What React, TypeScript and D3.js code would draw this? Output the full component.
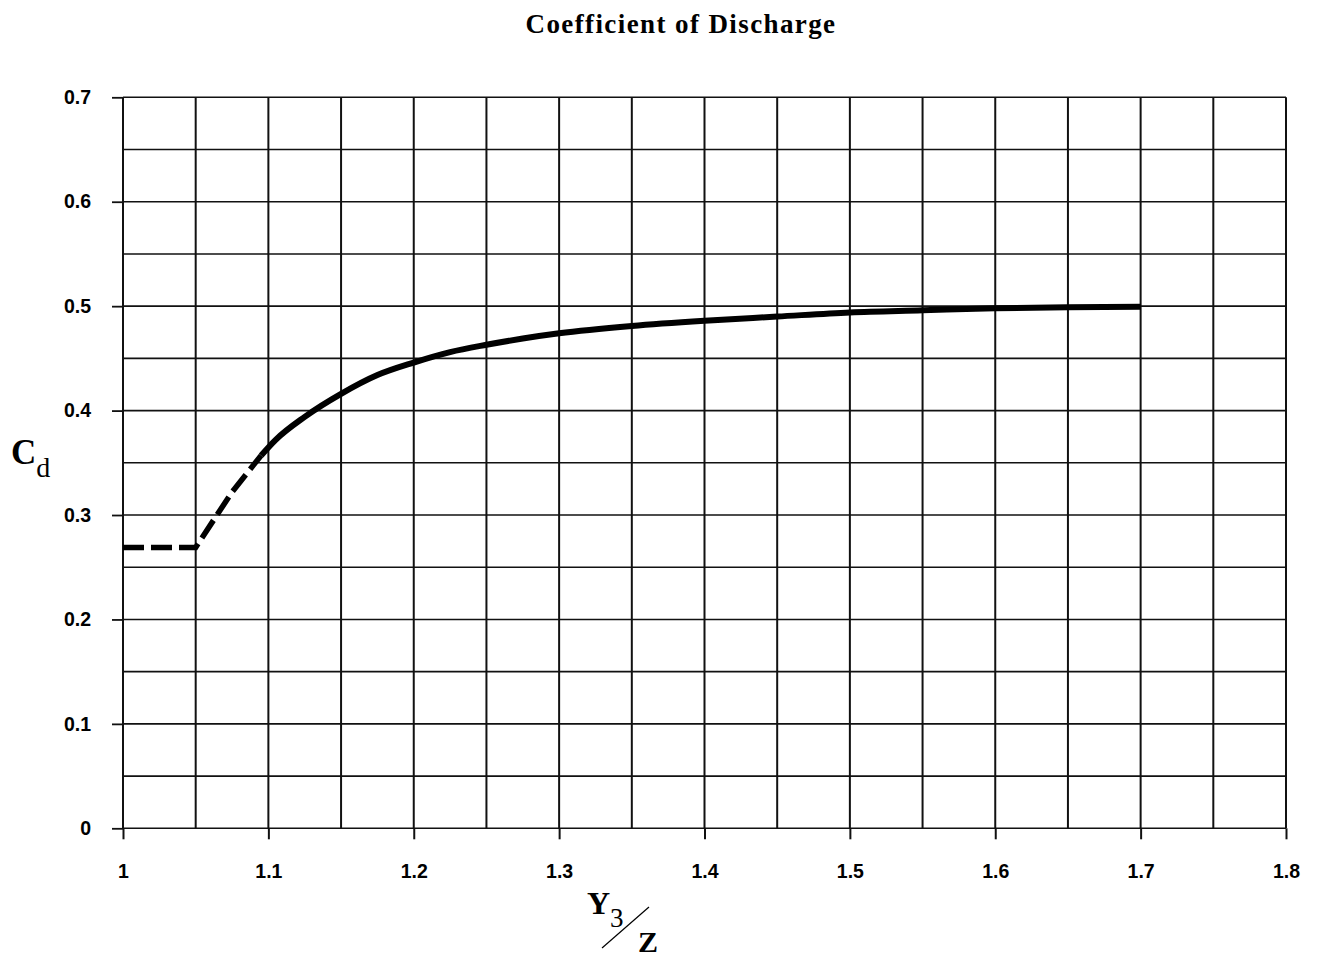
import React, { useEffect, useRef } from 'react';
import * as d3 from 'd3';

// Y3/Z values and Cd
const dashedX = [1.0, 1.05, 1.075, 1.095];
const dashedCd = [0.269, 0.269, 0.322, 0.357];

const solidX = [1.095, 1.105, 1.125, 1.15, 1.175, 1.2, 1.225, 1.25, 1.275, 1.3, 1.35, 1.4, 1.45, 1.5, 1.55, 1.6, 1.65, 1.7];
const solidCd = [0.357, 0.372, 0.394, 0.416, 0.434, 0.446, 0.456, 0.463, 0.469, 0.474, 0.481, 0.486, 0.490, 0.494, 0.496, 0.498, 0.499, 0.4995];

const xTicks = [1, 1.1, 1.2, 1.3, 1.4, 1.5, 1.6, 1.7, 1.8];
const xTickLabels = ['1', '1.1', '1.2', '1.3', '1.4', '1.5', '1.6', '1.7', '1.8'];
const yTicks = [0, 0.1, 0.2, 0.3, 0.4, 0.5, 0.6, 0.7];
const yTickLabels = ['0', '0.1', '0.2', '0.3', '0.4', '0.5', '0.6', '0.7'];

const W = 1319;
const H = 957;

export default function App() {
  const ref = useRef<SVGSVGElement>(null);

  useEffect(() => {
    if (!ref.current) return;
    const svg = d3.select(ref.current);
    svg.selectAll('*').remove();

    const x = d3.scaleLinear().domain([1, 1.8]).range([123, 1286]);
    const y = d3.scaleLinear().domain([0, 0.7]).range([828.3, 97.3]);

    const tickFont = "'Liberation Sans', Arial, sans-serif";
    const serif = "'Liberation Serif', 'Times New Roman', serif";

    // grid, every 0.05
    const gx = d3.range(0, 17).map(i => 1 + i * 0.05);
    const gy = d3.range(0, 15).map(i => i * 0.05);
    const grid = svg.append('g');
    grid.selectAll('line.v')
      .data(gx)
      .enter().append('line')
      .attr('x1', d => x(d)).attr('x2', d => x(d))
      .attr('y1', y(0.7)).attr('y2', y(0))
      .attr('stroke', '#111')
      .attr('stroke-width', 2);
    grid.selectAll('line.h')
      .data(gy)
      .enter().append('line')
      .attr('x1', x(1)).attr('x2', x(1.8))
      .attr('y1', d => y(d)).attr('y2', d => y(d))
      .attr('stroke', '#111')
      .attr('stroke-width', 1.6);

    // y axis
    const yAxis = d3.axisLeft(y)
      .tickValues(yTicks)
      .tickSize(11)
      .tickPadding(21)
      .tickFormat((d, i) => yTickLabels[i]);
    svg.append('g')
      .attr('transform', `translate(${x(1)},0)`)
      .call(yAxis)
      .call(g => g.select('.domain').remove())
      .call(g => g.selectAll('.tick line').attr('stroke', '#111').attr('stroke-width', 1.8))
      .call(g => g.selectAll('text')
        .attr('fill', '#000')
        .attr('font-size', '19.5px')
        .attr('font-weight', 'bold')
        .attr('font-family', tickFont));

    // x axis
    const xAxis = d3.axisBottom(x)
      .tickValues(xTicks)
      .tickSize(11)
      .tickPadding(25)
      .tickFormat((d, i) => xTickLabels[i]);
    svg.append('g')
      .attr('transform', `translate(0,${y(0)})`)
      .call(xAxis)
      .call(g => g.select('.domain').remove())
      .call(g => g.selectAll('.tick line').attr('stroke', '#111').attr('stroke-width', 2))
      .call(g => g.selectAll('text')
        .attr('fill', '#000')
        .attr('font-size', '19.5px')
        .attr('font-weight', 'bold')
        .attr('font-family', tickFont));

    // curves
    const dashed = dashedX.map((d, i) => [d, dashedCd[i]] as [number, number]);
    const solid = solidX.map((d, i) => [d, solidCd[i]] as [number, number]);
    const line = d3.line<[number, number]>()
      .x(d => x(d[0]))
      .y(d => y(d[1]));

    svg.append('path')
      .datum(dashed)
      .attr('fill', 'none')
      .attr('stroke', '#000')
      .attr('stroke-width', 5.5)
      .attr('stroke-dasharray', '21,7')
      .attr('d', line);

    svg.append('path')
      .datum(solid)
      .attr('fill', 'none')
      .attr('stroke', '#000')
      .attr('stroke-width', 6)
      .attr('stroke-linejoin', 'round')
      .attr('d', line.curve(d3.curveMonotoneX));

    // title
    svg.append('text')
      .attr('x', 681)
      .attr('y', 33)
      .attr('text-anchor', 'middle')
      .attr('font-family', serif)
      .attr('font-weight', 'bold')
      .attr('font-size', '27px')
      .attr('letter-spacing', '1.4px')
      .attr('fill', '#000')
      .text('Coefficient of Discharge');

    // y label C_d
    const yl = svg.append('text')
      .attr('x', 11)
      .attr('y', 464)
      .attr('font-family', serif)
      .attr('fill', '#000');
    yl.append('tspan').attr('font-weight', 'bold').attr('font-size', '35px').text('C');
    yl.append('tspan').attr('font-size', '28px').attr('dy', 13).text('d');

    // x label Y3 / Z
    const xl = svg.append('text')
      .attr('x', 587)
      .attr('y', 914)
      .attr('font-family', serif)
      .attr('fill', '#000');
    xl.append('tspan').attr('font-weight', 'bold').attr('font-size', '32px').text('Y');
    xl.append('tspan').attr('font-size', '27px').attr('dy', 13).text('3');

    svg.append('line')
      .attr('x1', 602).attr('y1', 948)
      .attr('x2', 649).attr('y2', 907)
      .attr('stroke', '#000')
      .attr('stroke-width', 1.2);

    svg.append('text')
      .attr('x', 638)
      .attr('y', 952)
      .attr('font-family', serif)
      .attr('font-weight', 'bold')
      .attr('font-size', '30px')
      .attr('fill', '#000')
      .text('Z');
  }, []);

  return (
    <svg
      ref={ref}
      width={W}
      height={H}
      style={{ position: 'absolute', left: 0, top: 0, background: '#fff' }}
    />
  );
}
